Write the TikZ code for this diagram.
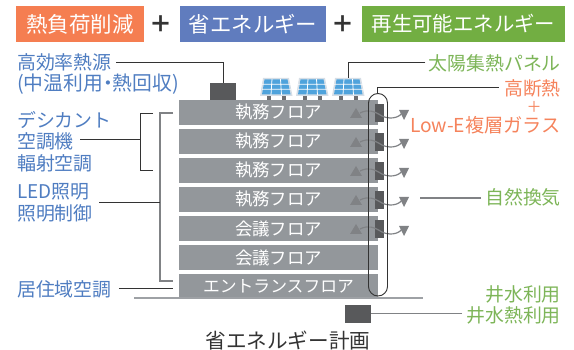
\documentclass[tikz,border=0pt]{standalone}
\usepackage{fontspec}
\usepackage{xcolor}
\setmainfont{Noto Sans CJK JP}
\newfontfamily\jppalt[RawFeature=+palt]{Noto Sans CJK JP}
\definecolor{heatbg}{HTML}{F57E51}
\definecolor{savebg}{HTML}{607CBE}
\definecolor{renewbg}{HTML}{72AE42}
\definecolor{bluetxt}{HTML}{4F7DC1}
\definecolor{greentxt}{HTML}{7DB558}
\definecolor{orangetxt}{HTML}{F5835C}
\definecolor{floorgray}{HTML}{93979B}
\definecolor{darkbox}{HTML}{58595B}
\definecolor{linegray}{HTML}{808285}
\definecolor{inkline}{HTML}{333333}
\definecolor{cellblue}{HTML}{4FA3DC}
\definecolor{panelrim}{HTML}{D6DEE6}
\tikzset{
  head/.style={text=white, minimum height=36pt, inner sep=0pt, font=\fontsize{20.4}{24}\selectfont},
  plus/.style={text=inkline, inner sep=0pt, font=\bfseries\fontsize{23}{28}\selectfont},
  floor/.style={fill=floorgray, text=white, minimum width=199pt, minimum height=25pt, inner sep=0pt, font=\fontsize{17.4}{20}\selectfont},
  lblue/.style={text=bluetxt, inner sep=0pt, align=left, anchor=west, font=\fontsize{18.9}{21.6}\selectfont},
  lgreen/.style={text=greentxt, inner sep=0pt, anchor=east, font=\fontsize{18.9}{22}\selectfont},
  lorange/.style={text=orangetxt, inner sep=0pt, anchor=east, font=\fontsize{18.9}{22}\selectfont},
  dark/.style={draw=inkline, line width=0.9pt},
  grayl/.style={draw=linegray, line width=1.2pt},
  eq/.style={fill=darkbox, draw=none, inner sep=0pt},
}
\begin{document}
\begin{tikzpicture}[x=1pt,y=-1pt]
  \useasboundingbox (0,0) rectangle (574,350);
  % headings
  \node[head,fill=heatbg,minimum width=128pt] (heat) at (80,24) {\fontsize{21.5}{24}\selectfont 熱負荷削減};
  \node[head,fill=savebg,minimum width=146pt] (save) at (253,24) {\fontsize{21.4}{24}\selectfont 省エネルギー};
  \node[head,fill=renewbg,minimum width=203pt] (renew) at (463.5,24) {再生可能エネルギー};
  \node[plus] (plusa) at (161,24) {＋};
  \node[plus] (plusb) at (343,24) {＋};
  % building
  \foreach \n/\y/\t in {1/112.5/執務フロア,2/141.5/執務フロア,3/170.5/執務フロア,4/199.5/執務フロア,5/228.5/会議フロア,6/257.5/会議フロア}
    \node[floor] (f\n) at (278.5,\y) {\raisebox{-0.8pt}{\t}};
  \node[floor] (f7) at (278.5,286.5) {\raisebox{-0.8pt}{\fontsize{16.8}{20}\selectfont エントランスフロア}};
  \draw[draw=floorgray!90,line width=2pt] (134,298.5) -- (423,298.5);
  % roof
  \node[eq,minimum width=26pt,minimum height=17pt] (boiler) at (223,91.7) {};
  \foreach \px in {260,296,332} {
    \fill[linegray!85!black] (\px+7,95) rectangle (\px+11,100);
    \fill[linegray!85!black] (\px+22,95) rectangle (\px+26,100);
    \fill[panelrim] (\px+3,78) -- (\px+29,78) -- (\px+32.5,96) -- (\px,96) -- cycle;
    \fill[cellblue] (\px+4.5,79.5) -- (\px+27.5,79.5) -- (\px+30.5,94.5) -- (\px+2,94.5) -- cycle;
    \draw[white,line width=0.8pt] (\px+2,84.3) -- (\px+31,84.3) (\px+2,89.3) -- (\px+31,89.3)
      (\px+12,79) -- (\px+11,95) (\px+20.5,79) -- (\px+21.5,95);
  }
  % windows and air flow
  \foreach \y in {0,29,58,87,116} {
    \fill[linegray] (350,118+\y) -- (362,118+\y) -- (356,108+\y) -- cycle;
    \fill[linegray] (399,110+\y) -- (409,110+\y) -- (404,120+\y) -- cycle;
    \fill[darkbox] (375,104+\y) rectangle (383.5,122+\y);
    \draw[linegray,line width=1.2pt] (360,113+\y) .. controls (368,109+\y) and (374,111+\y) .. (382,116+\y)
      .. controls (388,119+\y) and (398,119+\y) .. (402,113+\y);
  }
  \draw[dark,rounded corners=9.5pt] (368.5,93.5) rectangle (387.5,296);
  \node[eq,minimum width=26pt,minimum height=17.7pt] (well) at (358,313.8) {};
  % left labels
  \node[lblue] (source) at (17,74) {高効率熱源\\{\jppalt\fontsize{19.8}{21.6}\selectfont (中温利用・熱回収)}};
  \node[lblue] (desi) at (17,141.5) {デシカント\\空調機\\輻射空調};
  \node[lblue] (led) at (17,202.5) {LED照明\\照明制御};
  \node[lblue] (floorac) at (17,289) {居住域空調};
  \coordinate (sourceend) at (116,62);
  \coordinate (desiend) at (80,139);
  \coordinate (ledend) at (99,202);
  \draw[dark] (sourceend) -| (boiler.north);
  \draw[dark] (153,113) -| (140.3,170) -- (153,170);
  \draw[dark] (desiend) -- (140.3,139);
  \draw[grayl] (173,113) -| (160,281) -- (173,281);
  \draw[dark] (ledend) -- (160,202);
  \draw[dark] (floorac.east) ++(7,-0.5) -- (173,288.5);
  % right labels
  \node[lgreen] (solar) at (561,63) {太陽集熱パネル};
  \node[lorange] (insul) at (561,88) {高断熱};
  \node[text=orangetxt,inner sep=0pt,font=\fontsize{15}{18}\selectfont] (plusc) at (534,107) {＋};
  \node[lorange] (lowe) at (561,125) {\fontsize{19.2}{22}\selectfont Low-E複層ガラス};
  \node[lgreen] (vent) at (561,197.5) {自然換気};
  \node[lgreen] (wella) at (561,294) {井水利用};
  \node[lgreen] (wellb) at (561,315) {井水熱利用};
  \coordinate (panelend) at (348,78);
  \coordinate (capend) at (377.3,93.5);
  \coordinate (ventend) at (420,198);
  \draw[dark] (solar.west) ++(-3,-1) -| (panelend);
  \draw[dark] (insul.west) ++(-5,-1) -| (capend);
  \draw[grayl] (vent.west) ++(-4,0.5) -- (ventend);
  \draw[grayl] (wellb.west) ++(-4,-1.2) -- (well.east);
  % caption
  \node[text=inkline,inner sep=0pt,font=\fontsize{20.6}{24}\selectfont] (caption) at (288,340.5) {省エネルギー計画};
\end{tikzpicture}
\end{document}
